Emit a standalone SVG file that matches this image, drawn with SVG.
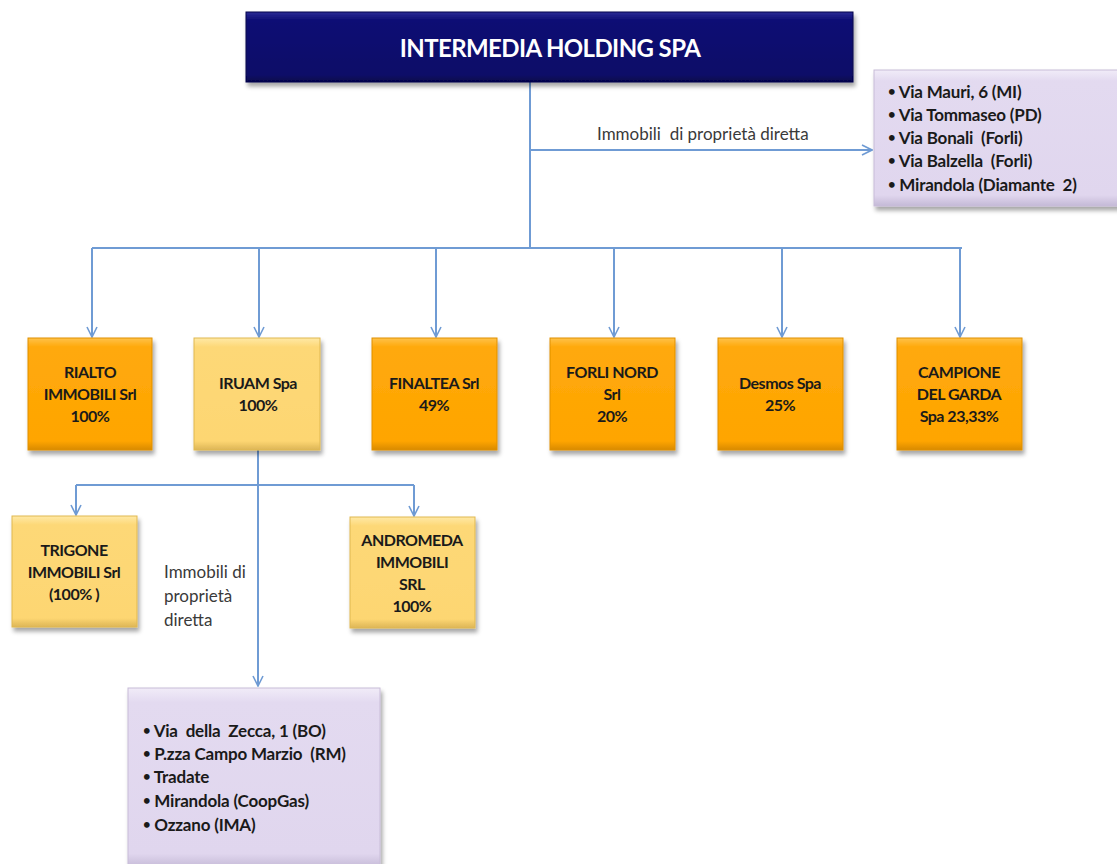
<svg xmlns="http://www.w3.org/2000/svg" width="1117" height="864" viewBox="0 0 1117 864">
<defs>
<filter id="sh" x="-10%" y="-10%" width="125%" height="130%">
<feDropShadow dx="2" dy="4" stdDeviation="2" flood-color="#000" flood-opacity="0.35"/>
</filter>
<linearGradient id="gNavy" x1="0" y1="0" x2="0" y2="1">
<stop offset="0" stop-color="#2a2a96"/><stop offset="0.12" stop-color="#0d0d74"/><stop offset="0.9" stop-color="#0a0a68"/><stop offset="1" stop-color="#05054a"/>
</linearGradient>
<linearGradient id="gOr" x1="0" y1="0" x2="0" y2="1">
<stop offset="0" stop-color="#ffc24a"/><stop offset="0.08" stop-color="#ffa90c"/><stop offset="0.92" stop-color="#ffa500"/><stop offset="1" stop-color="#d88a00"/>
</linearGradient>
<linearGradient id="gYe" x1="0" y1="0" x2="0" y2="1">
<stop offset="0" stop-color="#ffe9a6"/><stop offset="0.08" stop-color="#fdd877"/><stop offset="0.92" stop-color="#fdd672"/><stop offset="1" stop-color="#dcb556"/>
</linearGradient>
<linearGradient id="gLa" x1="0" y1="0" x2="0" y2="1">
<stop offset="0" stop-color="#f1ecf8"/><stop offset="0.08" stop-color="#e3daf0"/><stop offset="0.92" stop-color="#e0d6ee"/><stop offset="1" stop-color="#c4b9d6"/>
</linearGradient>
<marker id="arr" viewBox="0 0 12 12" refX="11" refY="6" markerWidth="12" markerHeight="12" markerUnits="userSpaceOnUse" orient="auto">
<path d="M1,1 L11,6 L1,11" fill="none" stroke="#6f9bd4" stroke-width="1.6"/>
</marker>
<style>
.ln{fill:none;stroke:#6f9bd4;stroke-width:2}
.t{font-family:Lato,"Liberation Sans",sans-serif;font-weight:bold;font-size:16px;fill:#1a1a1a;text-anchor:middle;letter-spacing:-0.5px}
.li{font-family:Lato,"Liberation Sans",sans-serif;font-weight:bold;font-size:17px;fill:#1a1a1a;letter-spacing:-0.2px;white-space:pre}
.bu{font-size:13px}
.lb{font-family:Lato,"Liberation Sans",sans-serif;font-size:17px;fill:#3a3a3a}
.or{fill:url(#gOr);stroke:#e09000;stroke-width:1;filter:url(#sh)}
.ye{fill:url(#gYe);stroke:#e0b850;stroke-width:1;filter:url(#sh)}
.la{fill:url(#gLa);stroke:#c8bcd8;stroke-width:1;filter:url(#sh)}
</style>
</defs>
<rect width="1117" height="864" fill="#ffffff"/>

<g id="connectors">
<path class="ln" d="M530,82 V248"/>
<path class="ln" d="M530,150 H872" marker-end="url(#arr)"/>
<path class="ln" d="M92,248 H962"/>
<path class="ln" d="M92,248 V337" marker-end="url(#arr)"/>
<path class="ln" d="M259,248 V337" marker-end="url(#arr)"/>
<path class="ln" d="M436,248 V337" marker-end="url(#arr)"/>
<path class="ln" d="M614,248 V337" marker-end="url(#arr)"/>
<path class="ln" d="M782,248 V337" marker-end="url(#arr)"/>
<path class="ln" d="M960,248 V337" marker-end="url(#arr)"/>
<path class="ln" d="M258,450 V686" marker-end="url(#arr)"/>
<path class="ln" d="M76,485 H414"/>
<path class="ln" d="M76,485 V515" marker-end="url(#arr)"/>
<path class="ln" d="M414,485 V516" marker-end="url(#arr)"/>
<text class="lb" x="597" y="140" xml:space="preserve">Immobili  di proprietà diretta</text>
<text class="lb" x="164" y="578">Immobili di</text>
<text class="lb" x="164" y="602">proprietà</text>
<text class="lb" x="164" y="626">diretta</text>
</g>

<g id="intermedia">
<rect x="246" y="12" width="607" height="70" fill="url(#gNavy)" stroke="#05054a" filter="url(#sh)"/>
<text x="550" y="57" font-family="Lato,'Liberation Sans',sans-serif" font-weight="bold" font-size="24" fill="#ffffff" text-anchor="middle" letter-spacing="-0.6">INTERMEDIA HOLDING SPA</text>
</g>

<g id="immobili-diretti">
<rect x="874" y="70" width="250" height="136" class="la"/>
<text class="li" x="888" y="98" xml:space="preserve"><tspan class="bu" dy="-2">•</tspan><tspan dy="2"> Via Mauri, 6 (MI)</tspan></text>
<text class="li" x="888" y="121" xml:space="preserve"><tspan class="bu" dy="-2">•</tspan><tspan dy="2"> Via Tommaseo (PD)</tspan></text>
<text class="li" x="888" y="144" xml:space="preserve"><tspan class="bu" dy="-2">•</tspan><tspan dy="2"> Via Bonali  (Forli)</tspan></text>
<text class="li" x="888" y="167" xml:space="preserve"><tspan class="bu" dy="-2">•</tspan><tspan dy="2"> Via Balzella  (Forli)</tspan></text>
<text class="li" x="888" y="191" xml:space="preserve"><tspan class="bu" dy="-2">•</tspan><tspan dy="2"> Mirandola (Diamante  2)</tspan></text>
</g>

<g id="rialto">
<rect x="28" y="338" width="124" height="112" class="or"/>
<text class="t" x="90" y="378">RIALTO</text>
<text class="t" x="90" y="400">IMMOBILI Srl</text>
<text class="t" x="90" y="422">100%</text>
</g>
<g id="iruam">
<rect x="194" y="338" width="126" height="112" class="ye"/>
<text class="t" x="258" y="389">IRUAM Spa</text>
<text class="t" x="258" y="411">100%</text>
</g>
<g id="finaltea">
<rect x="372" y="338" width="125" height="112" class="or"/>
<text class="t" x="434" y="389">FINALTEA Srl</text>
<text class="t" x="434" y="411">49%</text>
</g>
<g id="forli-nord">
<rect x="550" y="338" width="125" height="112" class="or"/>
<text class="t" x="612" y="378">FORLI NORD</text>
<text class="t" x="612" y="400">Srl</text>
<text class="t" x="612" y="422">20%</text>
</g>
<g id="desmos">
<rect x="718" y="338" width="125" height="112" class="or"/>
<text class="t" x="780" y="389">Desmos Spa</text>
<text class="t" x="780" y="411">25%</text>
</g>
<g id="campione">
<rect x="897" y="338" width="125" height="112" class="or"/>
<text class="t" x="959" y="378">CAMPIONE</text>
<text class="t" x="959" y="400">DEL GARDA</text>
<text class="t" x="959" y="422">Spa 23,33%</text>
</g>
<g id="trigone">
<rect x="12" y="516" width="125" height="111" class="ye"/>
<text class="t" x="74" y="556">TRIGONE</text>
<text class="t" x="74" y="578">IMMOBILI Srl</text>
<text class="t" x="74" y="600">(100% )</text>
</g>
<g id="andromeda">
<rect x="350" y="517" width="125" height="111" class="ye"/>
<text class="t" x="412" y="546">ANDROMEDA</text>
<text class="t" x="412" y="568">IMMOBILI</text>
<text class="t" x="412" y="590">SRL</text>
<text class="t" x="412" y="612">100%</text>
</g>
<g id="immobili-iruam">
<rect x="128" y="688" width="252" height="180" class="la"/>
<text class="li" x="143" y="737" xml:space="preserve"><tspan class="bu" dy="-2">•</tspan><tspan dy="2"> Via  della  Zecca, 1 (BO)</tspan></text>
<text class="li" x="143" y="760" xml:space="preserve"><tspan class="bu" dy="-2">•</tspan><tspan dy="2"> P.zza Campo Marzio  (RM)</tspan></text>
<text class="li" x="143" y="783" xml:space="preserve"><tspan class="bu" dy="-2">•</tspan><tspan dy="2"> Tradate</tspan></text>
<text class="li" x="143" y="807" xml:space="preserve"><tspan class="bu" dy="-2">•</tspan><tspan dy="2"> Mirandola (CoopGas)</tspan></text>
<text class="li" x="143" y="831" xml:space="preserve"><tspan class="bu" dy="-2">•</tspan><tspan dy="2"> Ozzano (IMA)</tspan></text>
</g>
</svg>
